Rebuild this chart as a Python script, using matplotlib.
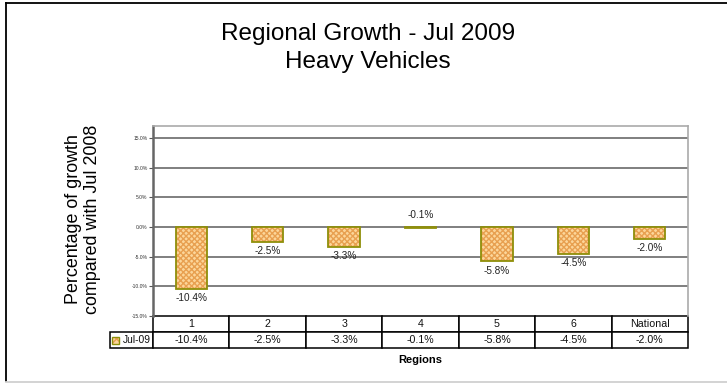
import matplotlib.pyplot as plt
from matplotlib.patches import Rectangle

plt.rcParams['font.family'] = ['Liberation Sans', 'DejaVu Sans']

# Data
regions = ["1", "2", "3", "4", "5", "6", "National"]
growth = [-10.4, -2.5, -3.3, -0.1, -5.8, -4.5, -2.0]
series_name = "Jul-09"
y_ticks = [-15, -10, -5, 0, 5, 10, 15]

face = "#fcd69a"
hatch_col = "#e8a050"
edge = "#8f8f0a"

fig = plt.figure(figsize=(7.27, 3.84), dpi=100)
ax = fig.add_axes([153 / 727, 1 - 316 / 384, 535 / 727, 190 / 384])

x = list(range(len(regions)))

# grid
for t in y_ticks[1:]:
    ax.axhline(t, color="#7f7f7f", lw=1.4, zorder=1)

# bars: hatched fill, then outline
ax.bar(x, growth, width=0.41, color=face, edgecolor=hatch_col, hatch="xxxxxx",
       linewidth=0, zorder=2)
ax.bar(x, growth, width=0.41, color="none", edgecolor=edge, linewidth=1.3, zorder=3)

# data labels
for xi, v in zip(x, growth):
    txt = f"{v:.1f}%"
    if abs(v) < 0.5:
        ax.annotate(txt, (xi, 0), xytext=(0, 5), textcoords="offset points",
                    ha="center", va="bottom", fontsize=7.2, color="#222222")
    else:
        ax.annotate(txt, (xi, v), xytext=(0, -3), textcoords="offset points",
                    ha="center", va="top", fontsize=7.2, color="#222222")

ax.set_xlim(-0.5, len(regions) - 0.5)
ax.set_ylim(-15, 17)
ax.set_yticks(y_ticks)
ax.set_yticklabels([f"{t:.1f}%" for t in y_ticks], fontsize=3.6, color="#333333")
ax.tick_params(axis="y", length=3, width=0.8, color="#555555", pad=1)
ax.set_xticks([])

for s in ["top", "right"]:
    ax.spines[s].set_color("#aaaaaa")
    ax.spines[s].set_linewidth(1.2)
ax.spines["left"].set_color("#666666")
ax.spines["left"].set_linewidth(1.8)
ax.spines["bottom"].set_visible(False)

# data table under the plot
lw = 43 / 535
h = 32 / 190
cells = [[""] + regions, [""] + [f"{v:.1f}%" for v in growth]]
tbl = ax.table(cellText=cells, bbox=[-lw, -h, 1 + lw, h], cellLoc="center",
               colWidths=[lw] + [1 / len(regions)] * len(regions))
tbl.auto_set_font_size(False)
for (r, c), cell in tbl.get_celld().items():
    cell.set_linewidth(1.1)
    cell.set_edgecolor("black")
    cell.get_text().set_fontsize(7.7)
    cell.get_text().set_color("#111111")
    if r == 0 and c == 0:
        cell.visible_edges = ""

# row label with legend key
ax.text(-2 / 535, -24 / 190, series_name, transform=ax.transAxes, ha="right",
        va="center", fontsize=7.4, color="#111111")
key_kw = dict(transform=ax.transAxes, clip_on=False)
ax.add_patch(Rectangle((-41 / 535, -27.5 / 190), 7 / 535, 7 / 190, facecolor=face,
                       edgecolor=hatch_col, hatch="xxx", linewidth=0, zorder=5, **key_kw))
ax.add_patch(Rectangle((-41 / 535, -27.5 / 190), 7 / 535, 7 / 190, facecolor="none",
                       edgecolor=edge, linewidth=1.0, zorder=6, **key_kw))

ax.text(0.5, -(360 - 316) / 190, "Regions", transform=ax.transAxes, ha="center",
        va="center", fontsize=8, fontweight="bold")

# titles
fig.text(368 / 727, 1 - 34 / 384, "Regional Growth - Jul 2009", ha="center",
         va="center", fontsize=17.5)
fig.text(368 / 727, 1 - 62 / 384, "Heavy Vehicles", ha="center", va="center",
         fontsize=17.5)
fig.text(83 / 727, 1 - 219 / 384, "Percentage of growth\ncompared with Jul 2008",
         rotation=90, ha="center", va="center", fontsize=12.9, linespacing=1.1)

# outer chart frame
fig.add_artist(plt.Line2D([6 / 727, 6 / 727], [1 - 3 / 384, 1 - 381 / 384],
                          color="black", lw=1.3))
fig.add_artist(plt.Line2D([6 / 727, 1], [1 - 3 / 384, 1 - 3 / 384],
                          color="black", lw=1.3))
fig.add_artist(plt.Line2D([6 / 727, 1], [1 - 382 / 384, 1 - 382 / 384],
                          color="#d0d0d0", lw=1.3))

fig.savefig("out.png", dpi=100)
